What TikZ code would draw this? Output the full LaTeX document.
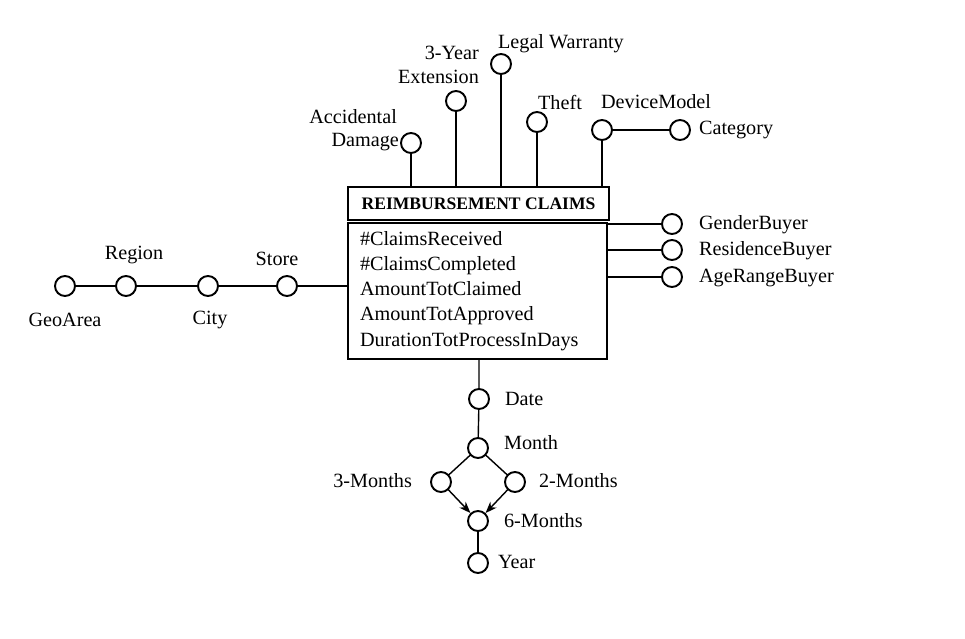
\documentclass[tikz,border=0pt]{standalone}
\usepackage{fontspec}
\setmainfont{Liberation Serif}
\usetikzlibrary{arrows.meta,positioning}

\begin{document}
\begin{tikzpicture}[x=0.02cm, y=-0.02cm, >=Stealth,
    lvl/.style={circle, draw, line width=1.1pt, minimum size=0.4cm, inner sep=0pt},
    txt/.style={font=\fontsize{11.5}{13}\selectfont, inner sep=1pt},
    link/.style={line width=0.8pt}]
    \useasboundingbox (0,0) rectangle (965,639);

    % Fact boxes
    \node[draw, line width=0.9pt, minimum width=5.22cm, minimum height=0.66cm,
          font=\fontsize{10}{12}\selectfont\bfseries] (title) at (478.5,203.5) {REIMBURSEMENT CLAIMS};
    \node[draw, line width=0.9pt, minimum width=5.18cm, minimum height=2.72cm, text width=4.7cm,
          align=left, font=\fontsize{11.5}{14.3}\selectfont] (meas) at (477.5,291)
          {\#ClaimsReceived\\ \#ClaimsCompleted\\ AmountTotClaimed\\ AmountTotApproved\\ DurationTotProcessInDays};

    % Store hierarchy
    \node[lvl] (geo) at (65,286) {};
    \node[lvl] (reg) at (126,286) {};
    \node[lvl] (city) at (208,286) {};
    \node[lvl] (store) at (287,286) {};
    \node[txt] (geoL) at (65,320) {GeoArea};
    \node[txt] (regL) at (134,255) {Region};
    \node[txt] (cityL) at (210,320) {City};
    \node[txt] (storeL) at (277,259) {Store};
    \draw[link] (geo) -- (reg) -- (city) -- (store) -- (store -| meas.west);

    % Coverage and product dimensions
    \node[lvl] (acc) at (411,143) {};
    \node[lvl] (ext) at (456,101) {};
    \node[lvl] (leg) at (501,64) {};
    \node[lvl] (theft) at (537,122) {};
    \node[lvl] (dev) at (602,130) {};
    \node[lvl] (cat) at (680,130) {};
    \node[txt, anchor=east] (accL1) at (399,117) {Accidental};
    \node[txt, anchor=east] (accL2) at (401,142) {Damage};
    \node[txt, anchor=east] (extL1) at (481,53) {3-Year};
    \node[txt, anchor=east] (extL2) at (481,77) {Extension};
    \node[txt, anchor=west] (legL) at (496,44) {Legal Warranty};
    \node[txt, anchor=west] (theftL) at (536,102) {Theft};
    \node[txt, anchor=west] (devL) at (599,102) {DeviceModel};
    \node[txt, anchor=west] (catL) at (697,130) {Category};
    \foreach \n in {acc,ext,leg,theft,dev}
        \draw[link] (\n) -- (\n |- title.north);
    \draw[link] (dev) -- (cat);

    % Buyer dimensions
    \node[lvl] (gen) at (672,224) {};
    \node[lvl] (res) at (672,250) {};
    \node[lvl] (age) at (672,277) {};
    \node[txt, anchor=west] (genL) at (697,225) {GenderBuyer};
    \node[txt, anchor=west] (resL) at (697,251) {ResidenceBuyer};
    \node[txt, anchor=west] (ageL) at (697,278) {AgeRangeBuyer};
    \foreach \n in {gen,res,age}
        \draw[link] (\n -| meas.east) -- (\n);

    % Time hierarchy
    \node[lvl] (date) at (479,399) {};
    \node[lvl] (month) at (478,448) {};
    \node[lvl] (m3) at (441,482) {};
    \node[lvl] (m2) at (515,482) {};
    \node[lvl] (m6) at (478,521) {};
    \node[lvl] (year) at (478,563) {};
    \node[txt, anchor=west] (dateL) at (503,399) {Date};
    \node[txt, anchor=west] (monthL) at (502,443) {Month};
    \node[txt, anchor=east] (m3L) at (414,481) {3-Months};
    \node[txt, anchor=west] (m2L) at (537,481) {2-Months};
    \node[txt, anchor=west] (m6L) at (502,521) {6-Months};
    \node[txt, anchor=west] (yearL) at (496,562) {Year};
    \draw[link] (date |- meas.south) -- (date) -- (month);
    \draw[link] (month) -- (m3);
    \draw[link] (month) -- (m2);
    \draw[link, ->] (m3) -- (m6);
    \draw[link, ->] (m2) -- (m6);
    \draw[link] (m6) -- (year);
\end{tikzpicture}
\end{document}
